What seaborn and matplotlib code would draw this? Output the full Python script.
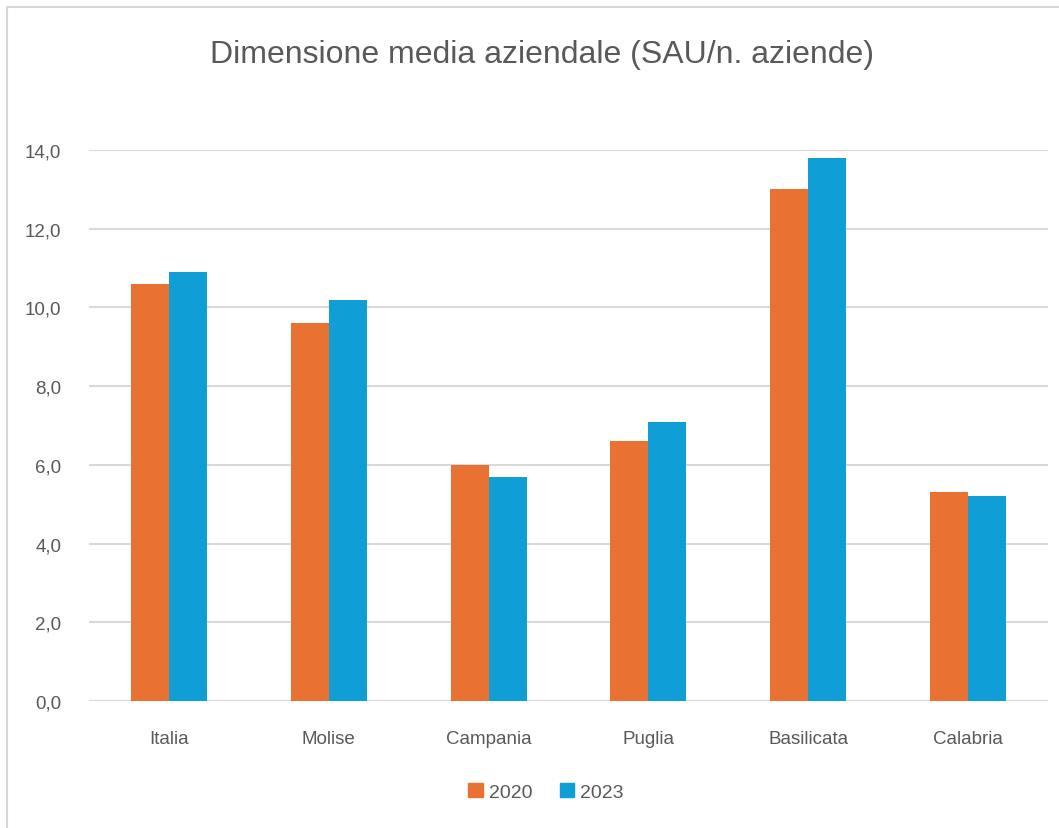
import matplotlib
matplotlib.use("Agg")
import matplotlib.pyplot as plt
import matplotlib.patches as mpatches
from matplotlib.ticker import FuncFormatter, MultipleLocator
import pandas as pd
import seaborn as sns

# values
regioni = ["Italia", "Molise", "Campania", "Puglia", "Basilicata", "Calabria"]
anni = ["2020", "2023"]
val_2020 = [10.6, 9.6, 6.0, 6.6, 13.0, 5.3]
val_2023 = [10.9, 10.2, 5.7, 7.1, 13.8, 5.2]

df = pd.DataFrame({
    "Regione": regioni * 2,
    "Anno": [anni[0]] * len(regioni) + [anni[1]] * len(regioni),
    "SAU": val_2020 + val_2023,
})

sns.set_style("white")
plt.rcParams["font.family"] = ["Liberation Sans", "DejaVu Sans"]
grigio = "#595959"

fig = plt.figure(figsize=(10.59, 8.29), dpi=100)
ax = fig.add_axes([89 / 1059, 1 - 702 / 829, (1048 - 89) / 1059, (702 - 151) / 829])

sns.barplot(data=df, x="Regione", y="SAU", hue="Anno", palette=["#E97132", "#0F9ED5"],
            width=0.476, ax=ax, legend=False, saturation=1, linewidth=0)

ax.set_ylim(0, 14)
ax.set_xlim(-0.5, len(regioni) - 0.5)
ax.yaxis.set_major_locator(MultipleLocator(2))
ax.yaxis.set_major_formatter(FuncFormatter(lambda v, p: f"{v:.1f}".replace(".", ",")))
ax.grid(axis="y", color="#d9d9d9", linewidth=1.5)
ax.set_axisbelow(True)
for s in ax.spines.values():
    s.set_visible(False)
ax.set_xlabel("")
ax.set_ylabel("")
ax.tick_params(axis="both", length=0, colors=grigio, labelsize=13.5)
ax.tick_params(axis="x", pad=21)
ax.tick_params(axis="y", pad=20)

fig.text(542 / 1059, 1 - 55 / 829, "Dimensione media aziendale (SAU/n. aziende)",
         ha="center", va="center", fontsize=23, color=grigio)

handles = [mpatches.Patch(color="#E97132", label="2020"),
           mpatches.Patch(color="#0F9ED5", label="2023")]
fig.legend(handles=handles, loc="center", bbox_to_anchor=(546 / 1059, 1 - 793 / 829),
           ncol=2, frameon=False, handlelength=0.75, handleheight=0.75, handletextpad=0.3,
           columnspacing=1.4, prop={"size": 14}, labelcolor=grigio)

# light border of the chart area (left and top visible)
fig.patches.append(mpatches.Rectangle((7 / 1059, -0.1), 1.2, 1.1 - 8 / 829,
                                      transform=fig.transFigure, fill=False,
                                      edgecolor="#d9d9d9", linewidth=1.5))

fig.savefig("out.png", dpi=100)
